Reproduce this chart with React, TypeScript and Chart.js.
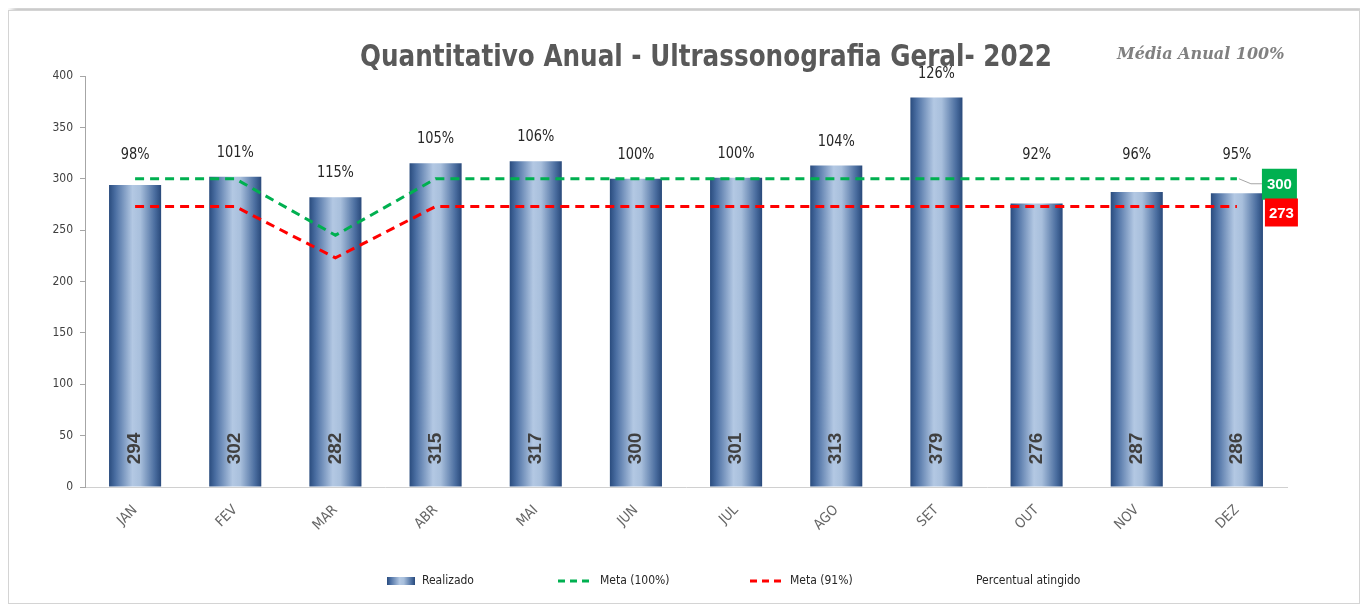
import React, { useEffect, useRef } from "react";
import { Chart, registerables } from "chart.js";

Chart.register(...registerables);

const months = ["JAN", "FEV", "MAR", "ABR", "MAI", "JUN", "JUL", "AGO", "SET", "OUT", "NOV", "DEZ"];
const realizado = [294, 302, 282, 315, 317, 300, 301, 313, 379, 276, 287, 286];
const meta100 = [300, 300, 245, 300, 300, 300, 300, 300, 300, 300, 300, 300];
const meta91 = [273, 273, 223, 273, 273, 273, 273, 273, 273, 273, 273, 273];
const percentual = [98, 101, 115, 105, 106, 100, 100, 104, 126, 92, 96, 95];
const yTicks = [0, 50, 100, 150, 200, 250, 300, 350, 400];

const TITLE = "Quantitativo Anual - Ultrassonografia Geral- 2022";
const SUBTITLE = "Média Anual 100%";
const NARROW = "'Liberation Sans Narrow', 'DejaVu Sans Condensed', 'Arial Narrow', sans-serif";

function barGradient(ctx: CanvasRenderingContext2D, x0: number, x1: number) {
  const g = ctx.createLinearGradient(x0, 0, x1, 0);
  g.addColorStop(0, "#2a4c7e");
  g.addColorStop(0.12, "#4a6ea2");
  g.addColorStop(0.45, "#b3c8e3");
  g.addColorStop(0.6, "#a8bfdc");
  g.addColorStop(0.88, "#4a6d9f");
  g.addColorStop(1, "#29497a");
  return g;
}

function fitText(ctx: CanvasRenderingContext2D, text: string, cx: number, cy: number, width: number) {
  const w = ctx.measureText(text).width;
  const s = Math.min(1, width / w);
  ctx.save();
  ctx.translate(cx, cy);
  ctx.scale(s, 1);
  ctx.textAlign = "center";
  ctx.fillText(text, 0, 0);
  ctx.restore();
}

const labelsPlugin = {
  id: "customLabels",
  afterDatasetsDraw(chart: any) {
    const ctx: CanvasRenderingContext2D = chart.ctx;
    const barMeta = chart.getDatasetMeta(3);
    const greenMeta = chart.getDatasetMeta(0);
    const redMeta = chart.getDatasetMeta(1);
    ctx.save();
    // bar values, rotated
    barMeta.data.forEach((el: any, i: number) => {
      ctx.save();
      ctx.translate(el.x, el.base - 38);
      ctx.rotate(-Math.PI / 2);
      ctx.font = "bold 19px 'Liberation Sans', Arial, sans-serif";
      ctx.fillStyle = "#404040";
      ctx.textAlign = "center";
      ctx.textBaseline = "middle";
      ctx.fillText(String(realizado[i]), 0, 0);
      ctx.restore();
    });
    // percent labels
    ctx.font = "16px " + NARROW;
    ctx.fillStyle = "#262626";
    ctx.textAlign = "center";
    ctx.textBaseline = "middle";
    barMeta.data.forEach((el: any, i: number) => {
      const gy = greenMeta.data[i].y;
      const top = Math.min(el.y, gy);
      const t = percentual[i] + "%";
      fitText(ctx, t, el.x, top - 24, ctx.measureText(t).width * 0.9);
    });
    // end value boxes
    const gLast = greenMeta.data[greenMeta.data.length - 1];
    const rLast = redMeta.data[redMeta.data.length - 1];
    ctx.strokeStyle = "#a6a6a6";
    ctx.lineWidth = 1;
    ctx.beginPath();
    ctx.moveTo(gLast.x + 2, gLast.y);
    ctx.lineTo(gLast.x + 14, gLast.y + 5);
    ctx.lineTo(gLast.x + 25, gLast.y + 5);
    ctx.stroke();
    ctx.font = "bold 15px 'Liberation Sans', Arial, sans-serif";
    ctx.textAlign = "center";
    ctx.fillStyle = "#00b050";
    ctx.fillRect(gLast.x + 25, gLast.y - 10, 35, 31);
    ctx.fillStyle = "#ffffff";
    ctx.fillText(String(meta100[meta100.length - 1]), gLast.x + 42.5, gLast.y + 6);
    ctx.fillStyle = "#ff0000";
    ctx.fillRect(rLast.x + 28, rLast.y - 8, 33, 28);
    ctx.fillStyle = "#ffffff";
    ctx.fillText(String(meta91[meta91.length - 1]), rLast.x + 44.5, rLast.y + 7);
    ctx.restore();
  },
  afterDraw(chart: any) {
    const ctx: CanvasRenderingContext2D = chart.ctx;
    ctx.save();
    // title
    ctx.font = "bold 31px " + NARROW;
    ctx.fillStyle = "#595959";
    ctx.textBaseline = "middle";
    fitText(ctx, TITLE, 697, 47, 692);
    ctx.font = "italic bold 16px 'DejaVu Serif', serif";
    ctx.fillStyle = "#808080";
    ctx.textAlign = "left";
    ctx.fillText(SUBTITLE, 1108, 44);
    // legend
    const ly = 570;
    ctx.font = "12px " + NARROW;
    ctx.textBaseline = "middle";
    ctx.fillStyle = barGradient(ctx, 378, 406);
    ctx.fillRect(378, ly - 4, 28, 8);
    ctx.fillStyle = "#262626";
    ctx.fillText("Realizado", 413, ly);
    ctx.lineWidth = 3;
    ctx.setLineDash([7, 5]);
    ctx.strokeStyle = "#00b050";
    ctx.beginPath();
    ctx.moveTo(549, ly);
    ctx.lineTo(583, ly);
    ctx.stroke();
    ctx.fillText("Meta (100%)", 591, ly);
    ctx.strokeStyle = "#ff0000";
    ctx.beginPath();
    ctx.moveTo(741, ly);
    ctx.lineTo(776, ly);
    ctx.stroke();
    ctx.fillText("Meta (91%)", 781, ly);
    ctx.setLineDash([]);
    ctx.fillText("Percentual atingido", 967, ly);
    ctx.restore();
  },
};

export default function App() {
  const ref = useRef<HTMLCanvasElement>(null);
  useEffect(() => {
    if (!ref.current) return;
    const chart = new Chart(ref.current, {
      type: "bar",
      data: {
        labels: months,
        datasets: [
          {
            type: "line",
            label: "Meta (100%)",
            data: meta100,
            borderColor: "#00b050",
            borderWidth: 3,
            borderDash: [9, 6],
            pointRadius: 0,
            tension: 0,
            fill: false,
            order: 1,
          } as any,
          {
            type: "line",
            label: "Meta (91%)",
            data: meta91,
            borderColor: "#ff0000",
            borderWidth: 3,
            borderDash: [9, 6],
            pointRadius: 0,
            tension: 0,
            fill: false,
            order: 2,
          } as any,
          {
            type: "line",
            label: "Percentual atingido",
            data: percentual,
            yAxisID: "yPct",
            showLine: false,
            pointRadius: 0,
            borderColor: "transparent",
            order: 3,
          } as any,
          {
            type: "bar",
            label: "Realizado",
            data: realizado,
            order: 10,
            barPercentage: 0.52,
            categoryPercentage: 1,
            borderWidth: 0,
            backgroundColor: (c: any) => {
              const chart = c.chart;
              const xs = chart.scales && chart.scales.x;
              if (!xs || c.type !== "data" || !xs.width) return "#6f8fbd";
              const cx = xs.getPixelForValue(c.dataIndex);
              const hw = ((xs.width / months.length) * 0.52) / 2;
              return barGradient(chart.ctx, cx - hw, cx + hw);
            },
          } as any,
        ],
      },
      options: {
        animation: false,
        responsive: false,
        maintainAspectRatio: false,
        layout: { padding: { left: 36, right: 72, top: 65, bottom: 0 } },
        plugins: {
          legend: { display: false },
          title: { display: false },
          tooltip: { enabled: false },
        },
        scales: {
          x: {
            grid: { display: false },
            border: { display: true, color: "#d0d0d0", width: 1 },
            ticks: {
              color: "#666666",
              font: { family: NARROW, size: 14 },
              maxRotation: 45,
              minRotation: 45,
              padding: 7,
            },
            afterFit: (s: any) => {
              s.height = 116;
            },
          },
          y: {
            min: 0,
            max: 400,
            afterBuildTicks: (s: any) => {
              s.ticks = yTicks.map((v) => ({ value: v }));
            },
            grid: {
              display: true,
              drawOnChartArea: false,
              drawTicks: true,
              tickLength: 5,
              color: "#a6a6a6",
            },
            border: { display: true, color: "#a6a6a6", width: 1 },
            ticks: {
              color: "#404040",
              font: { family: NARROW, size: 12 },
              padding: 7,
            },
            afterFit: (s: any) => {
              s.width = 40;
            },
          },
          yPct: {
            display: false,
            min: 0,
            max: 200,
          },
        },
      },
      plugins: [labelsPlugin],
    });
    return () => chart.destroy();
  }, []);

  return (
    <div style={{ paddingTop: 2 }}>
      <div
        style={{
          width: 1350,
          height: 592,
          border: "1px solid #d4d4d4",
          boxShadow: "4px -2px 6px rgba(0,0,0,0.3)",
          background: "#ffffff",
        }}
      >
        <canvas ref={ref} width={1350} height={592} style={{ display: "block" }} />
      </div>
    </div>
  );
}
